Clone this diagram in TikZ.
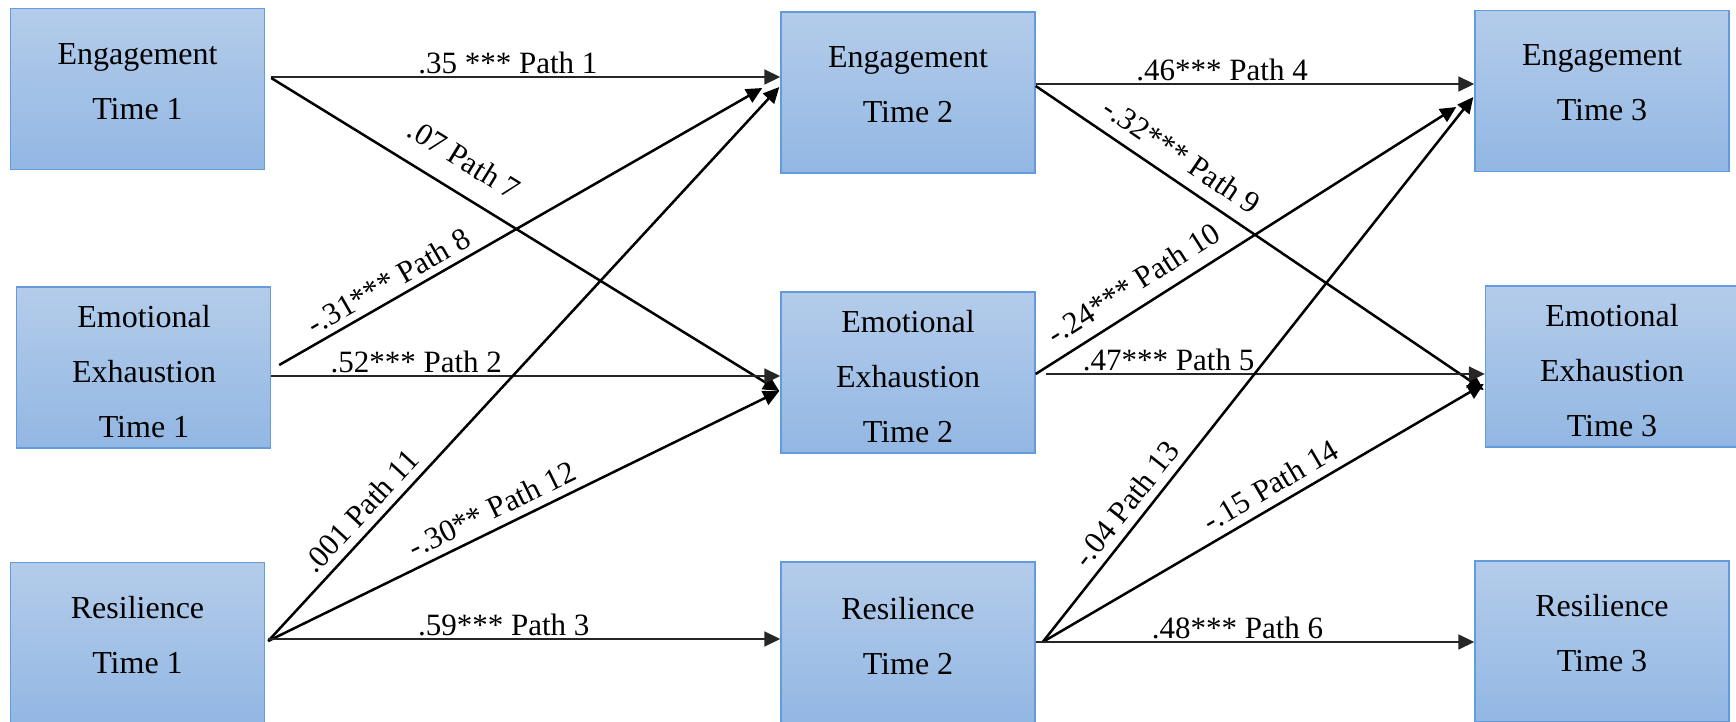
\documentclass[tikz,border=0pt]{standalone}
\usepackage{fontspec}
\setmainfont{Liberation Serif}
\usetikzlibrary{arrows.meta}
\definecolor{boxtop}{RGB}{180,204,234}
\definecolor{boxbot}{RGB}{146,183,227}
\definecolor{boxline}{RGB}{100,155,218}
\begin{document}
\begin{tikzpicture}[x=0.5pt,y=-0.5pt,
  box/.style={rectangle, draw=boxline, line width=0.7pt, top color=boxtop, bottom color=boxbot,
    minimum width=127pt, minimum height=80.5pt, inner sep=0pt},
  txt/.style={align=center, inner sep=0pt, font=\fontsize{16}{27.5}\selectfont},
  lab/.style={font=\fontsize{15.5}{18}\selectfont, inner sep=0pt},
  harr/.style={-{Triangle[length=8pt,width=7.5pt]}, line width=0.85pt, draw=black!85},
  darr/.style={-{Triangle[length=8pt,width=7.5pt]}, line width=1.25pt, draw=black},
]
\useasboundingbox (0,0) rectangle (1736,722);

% boxes
\node[box] (e1) at (137.5,89) {};
\node[box] (x1) at (143.5,367.5) {};
\node[box] (r1) at (137.5,643) {};
\node[box] (e2) at (908,92.5) {};
\node[box] (x2) at (908,372.5) {};
\node[box] (r2) at (908,642.5) {};
\node[box] (e3) at (1602,91) {};
\node[box] (x3) at (1612.5,366.5) {};
\node[box] (r3) at (1602,641.5) {};

% box texts
\node[txt] (te1) at (137.5,82) {Engagement\\Time 1};
\node[txt] (tx1) at (144,372) {Emotional\\Exhaustion\\Time 1};
\node[txt] (tr1) at (137.5,635) {Resilience\\Time 1};
\node[txt] (te2) at (908,85) {Engagement\\Time 2};
\node[txt] (tx2) at (908,377) {Emotional\\Exhaustion\\Time 2};
\node[txt] (tr2) at (908,636) {Resilience\\Time 2};
\node[txt] (te3) at (1602,83) {Engagement\\Time 3};
\node[txt] (tx3) at (1612,371) {Emotional\\Exhaustion\\Time 3};
\node[txt] (tr3) at (1602,633) {Resilience\\Time 3};

% Time 1 -> Time 2
\draw[harr] ([shift={(6,-12)}]e1.east) -- node[lab,pos=0.465,above=1pt] {.35 *** Path 1} ([shift={(0,-15.5)}]e2.west);
\draw[darr] ([shift={(6,-11)}]e1.east) -- node[lab,pos=0.347,sloped,above=10pt] {.07 Path 7} ([shift={(-1,18.5)}]x2.west);
\draw[darr] ([shift={(8,-2.5)}]x1.east) -- node[lab,pos=0.245,sloped,above=3pt] {-.31*** Path 8} ([shift={(-18,-4.5)}]e2.west);
\draw[harr] ([shift={(0,8.5)}]x1.east) -- node[lab,pos=0.285,above=1pt] {.52*** Path 2} ([shift={(0,3.5)}]x2.west);
\draw[darr] ([shift={(3,-2)}]r1.east) -- node[lab,pos=0.21,sloped,above=4pt] {.001 Path 11} ([shift={(-1,-5.5)}]e2.west);
\draw[darr] ([shift={(3,-2)}]r1.east) -- node[lab,pos=0.455,sloped,above=4pt] {-.30** Path 12} ([shift={(-1,18.5)}]x2.west);
\draw[harr] ([shift={(3,-4)}]r1.east) -- node[lab,pos=0.46,above=1pt] {.59*** Path 3} ([shift={(0,-3.5)}]r2.west);

% Time 2 -> Time 3
\draw[harr] ([shift={(0,-8.5)}]e2.east) -- node[lab,pos=0.425,above=1pt] {.46*** Path 4} ([shift={(0,-7)}]e3.west);
\draw[darr] ([shift={(0,-6.5)}]e2.east) -- node[lab,pos=0.296,sloped,above=6pt] {-.32*** Path 9} ([shift={(-1,23.5)}]x3.west);
\draw[darr] ([shift={(0,1.5)}]x2.east) -- node[lab,pos=0.263,sloped,above=6pt] {-.24*** Path 10} ([shift={(-18,16)}]e3.west);
\draw[harr] ([shift={(10,1.5)}]x2.east) -- node[lab,pos=0.28,above=1pt] {.47*** Path 5} ([shift={(0,7.5)}]x3.west);
\draw[darr] ([shift={(7,-0.5)}]r2.east) -- node[lab,pos=0.23,sloped,above=4pt] {-.04 Path 13} ([shift={(-1,6)}]e3.west);
\draw[darr] ([shift={(7,-0.5)}]r2.east) -- node[lab,pos=0.54,sloped,above=4pt] {-.15 Path 14} ([shift={(-1,17.5)}]x3.west);
\draw[harr] ([shift={(0,-0.5)}]r2.east) -- node[lab,pos=0.46,above=1pt] {.48*** Path 6} ([shift={(0,0.5)}]r3.west);
\end{tikzpicture}
\end{document}
